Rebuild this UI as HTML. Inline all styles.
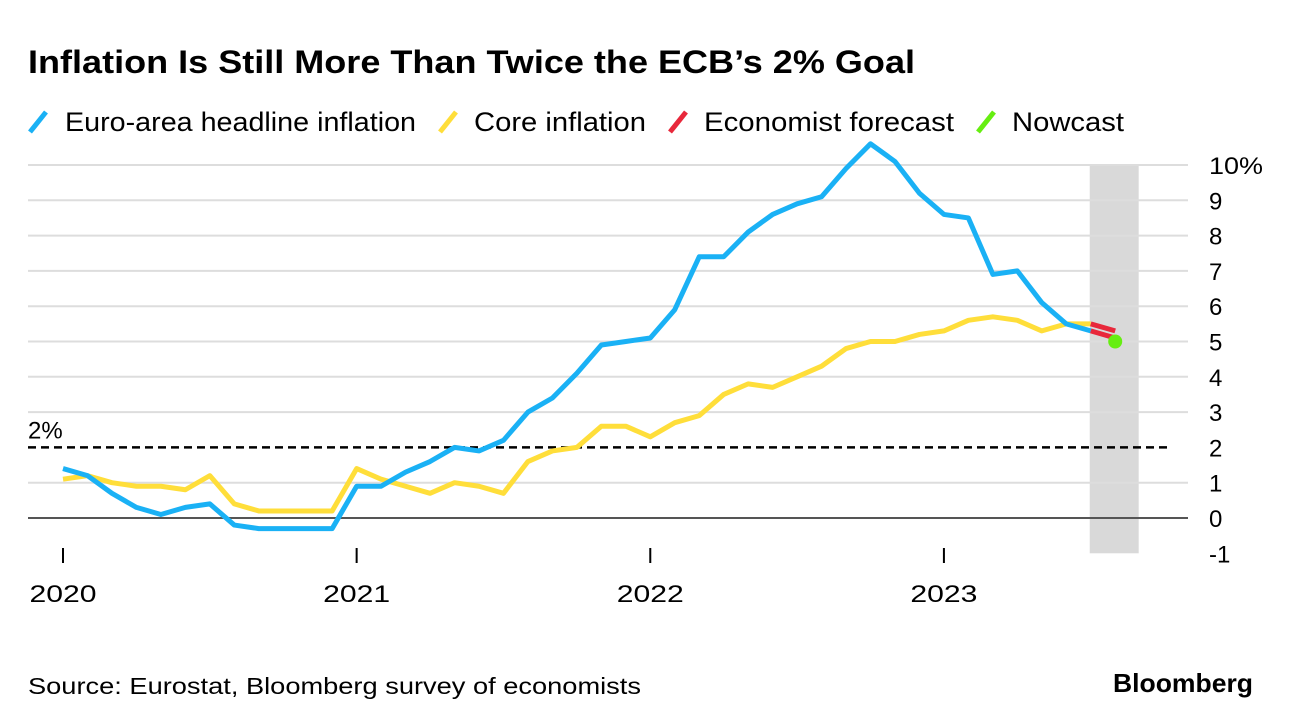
<!DOCTYPE html>
<html><head><meta charset="utf-8"><style>
body{margin:0;background:#fff;font-family:"Liberation Sans",sans-serif;}
svg{display:block}
</style></head><body>
<svg width="1292" height="726">
<text x="28" y="73" font-size="32" font-weight="bold" fill="#000" textLength="887" lengthAdjust="spacingAndGlyphs">Inflation Is Still More Than Twice the ECB’s 2% Goal</text>
<g font-size="27" fill="#000">
<line x1="30" y1="132" x2="46" y2="112" stroke="#1AB1F5" stroke-width="5"/>
<text x="65" y="131" textLength="351" lengthAdjust="spacingAndGlyphs">Euro-area headline inflation</text>
<line x1="440" y1="132" x2="456" y2="112" stroke="#FFDE3A" stroke-width="5"/>
<text x="474" y="131" textLength="172" lengthAdjust="spacingAndGlyphs">Core inflation</text>
<line x1="670" y1="132" x2="686" y2="112" stroke="#E8283B" stroke-width="5"/>
<text x="704" y="131" textLength="250" lengthAdjust="spacingAndGlyphs">Economist forecast</text>
<line x1="978" y1="132" x2="994" y2="112" stroke="#66EE11" stroke-width="5"/>
<text x="1012" y="131" textLength="112" lengthAdjust="spacingAndGlyphs">Nowcast</text>
</g>
<g id="plot"></g>
<text x="28" y="694" font-size="23" fill="#000" textLength="613" lengthAdjust="spacingAndGlyphs">Source: Eurostat, Bloomberg survey of economists</text>
<text x="1113" y="692" font-size="26" font-weight="bold" fill="#000" textLength="140" lengthAdjust="spacingAndGlyphs">Bloomberg</text>
</svg>
<script>
const headline=[1.4,1.2,0.7,0.3,0.1,0.3,0.4,-0.2,-0.3,-0.3,-0.3,-0.3,0.9,0.9,1.3,1.6,2.0,1.9,2.2,3.0,3.4,4.1,4.9,5.0,5.1,5.9,7.4,7.4,8.1,8.6,8.9,9.1,9.9,10.6,10.1,9.2,8.6,8.5,6.9,7.0,6.1,5.5,5.3];
const core=[1.1,1.2,1.0,0.9,0.9,0.8,1.2,0.4,0.2,0.2,0.2,0.2,1.4,1.1,0.9,0.7,1.0,0.9,0.7,1.6,1.9,2.0,2.6,2.6,2.3,2.7,2.9,3.5,3.8,3.7,4.0,4.3,4.8,5.0,5.0,5.2,5.3,5.6,5.7,5.6,5.3,5.5,5.5];
const headlineForecast=[5.3,5.1];
const coreForecast=[5.5,5.3];
const nowcast=[43,5.0];
const yTicks=[-1,0,1,2,3,4,5,6,7,8,9,10];
const yearLabels=["2020","2021","2022","2023"];
const targetValue=2;
const shadeStart=42, shadeEnd=44;

const NS="http://www.w3.org/2000/svg";
const g=document.getElementById('plot');
const X=i=>63+i*24.47;
const Y=v=>518-v*35.3;
function el(t,a){const e=document.createElementNS(NS,t);for(const k in a)e.setAttribute(k,a[k]);g.appendChild(e);return e;}
const shade=el('rect',{x:X(shadeStart)-1,y:Y(10),width:X(shadeEnd)-X(shadeStart),height:Y(-1)-Y(10),fill:'#D9D9D9'});


yTicks.forEach(v=>{
  if(v>=1&&v!==targetValue){const l=el('line',{x1:28,x2:1188,y1:Y(v),y2:Y(v),stroke:'#DDDDDD','stroke-width':2});
  
  }
  const t=el('text',{x:1209,y:Y(v)+9,'font-size':24,fill:'#000'});
  t.textContent=v===10?'10%':String(v);
  if(v===10){t.setAttribute('textLength','54');t.setAttribute('lengthAdjust','spacingAndGlyphs');}
  
  
});
const zero=el('line',{x1:28,x2:1188,y1:Y(0),y2:Y(0),stroke:'#555',"stroke-width":2});


const tl=el('line',{x1:28,x2:1170,y1:Y(targetValue),y2:Y(targetValue),stroke:'#000','stroke-width':2.5,'stroke-dasharray':'8,5'});


const tt=el('text',{x:28,y:Y(targetValue)-9,'font-size':24,fill:'#000'});tt.textContent='2%';


yearLabels.forEach((s,k)=>{
  const x=X(k*12);
  const tk=el('line',{x1:x,x2:x,y1:548,y2:563,stroke:'#000','stroke-width':2});
  
  
  const t=el('text',{x:x,y:602,'font-size':24,fill:'#000','text-anchor':'middle',textLength:67,lengthAdjust:'spacingAndGlyphs'});t.textContent=s;
  
  
});
const pts=(arr,off)=>arr.map((v,i)=>X(i+off)+','+Y(v)).join(' ');
const cl=el('polyline',{points:pts(core,0),fill:'none',stroke:'#FFDE3A','stroke-width':5,'stroke-linejoin':'round'});


const hl=el('polyline',{points:pts(headline,0),fill:'none',stroke:'#1AB1F5','stroke-width':5,'stroke-linejoin':'round'});


const cf=el('polyline',{points:pts(coreForecast,core.length-1),fill:'none',stroke:'#E8283B','stroke-width':5});


const hf=el('polyline',{points:pts(headlineForecast,headline.length-1),fill:'none',stroke:'#E8283B','stroke-width':5});


const nc=el('circle',{cx:X(nowcast[0]),cy:Y(nowcast[1]),r:7,fill:'#66EE11'});


</script>
</body></html>
